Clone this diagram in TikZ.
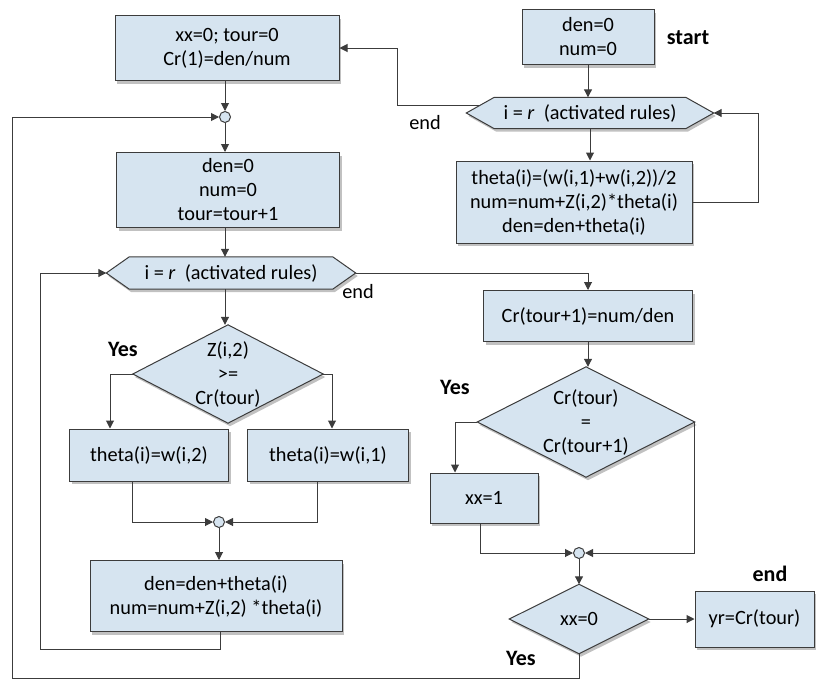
\documentclass[tikz,border=0pt]{standalone}
\usepackage{fontspec}
\setmainfont{Carlito}
\usetikzlibrary{arrows.meta,shadows,calc,backgrounds}
\definecolor{boxfill}{RGB}{214,228,240}
\definecolor{linec}{RGB}{60,60,60}
\newcommand{\fs}{\fontsize{20.3}{24}\selectfont}
\newcommand{\fb}{\fontsize{22}{26}\selectfont\bfseries}
\tikzset{
  shd/.style={drop shadow={shadow xshift=2pt,shadow yshift=-3pt,opacity=0.35,fill=black!70}},
  box/.style={draw=linec,line width=1pt,fill=boxfill,inner sep=0pt,align=center,font=\fs,shd},
  shp/.style={inner sep=0pt,align=center,font=\fs},
  shpdraw/.style={draw=linec,line width=1pt,fill=boxfill,shd},
  arr/.style={draw=linec,line width=1pt,-{Triangle[length=8pt,width=8pt]}},
  ln/.style={draw=linec,line width=1pt},
  junc/.style={circle,draw=linec,line width=1pt,fill=boxfill,minimum size=11pt,inner sep=0pt},
  lab/.style={font=\fs,inner sep=0pt},
  blab/.style={font=\fb,inner sep=0pt}
}
\begin{document}
\begin{tikzpicture}[x=1pt,y=-1pt]
\useasboundingbox (0,0) rectangle (816,680);
% boxes
\node[box,minimum width=224,minimum height=65] (A) at (227,48) {xx=0; tour=0\\Cr(1)=den/num};
\node[box,minimum width=132,minimum height=55] (S) at (588,37) {den=0\\num=0};
\node[box,minimum width=236,minimum height=82] (B) at (574,202) {theta(i)=(w(i,1)+w(i,2))/2\\num=num+Z(i,2)*theta(i)\\den=den+theta(i)};
\node[box,minimum width=223,minimum height=75] (C) at (228,190) {den=0\\num=0\\tour=tour+1};
\node[box,minimum width=159,minimum height=52] (D1) at (149,455) {theta(i)=w(i,2)};
\node[box,minimum width=161,minimum height=52] (D2) at (328,455) {theta(i)=w(i,1)};
\node[box,minimum width=252,minimum height=71] (E) at (216,596) {den=den+theta(i)\\num=num+Z(i,2) *theta(i)};
\node[box,minimum width=209,minimum height=51] (F) at (588,316) {Cr(tour+1)=num/den};
\node[box,minimum width=108,minimum height=50] (G) at (484,498) {xx=1};
\node[box,minimum width=119,minimum height=56] (H) at (754.5,619) {yr=Cr(tour)};
% hexagons and diamonds (text nodes)
\node[shp,minimum width=247,minimum height=31] (h1) at (590,113) {i = \textit{r}\ \ (activated rules)};
\node[shp,minimum width=249,minimum height=32] (h2) at (231,273) {i = \textit{r}\ \ (activated rules)};
\node[shp,minimum width=190,minimum height=98] (d1) at (228,374) {Z(i,2)\\>=\\Cr(tour)};
\node[shp,minimum width=217,minimum height=110] (d2) at (586,422) {Cr(tour)\\=\\Cr(tour+1)};
\node[shp,minimum width=139,minimum height=69] (d3) at (579,619) {xx=0};
\begin{scope}[on background layer]
  \path[shpdraw] (h1.west) -- ($(h1.north west)+(28,0)$) -- ($(h1.north east)+(-28,0)$) -- (h1.east) -- ($(h1.south east)+(-28,0)$) -- ($(h1.south west)+(28,0)$) -- cycle;
  \path[shpdraw] (h2.west) -- ($(h2.north west)+(23,0)$) -- ($(h2.north east)+(-23,0)$) -- (h2.east) -- ($(h2.south east)+(-23,0)$) -- ($(h2.south west)+(23,0)$) -- cycle;
  \path[shpdraw] (d1.north) -- (d1.east) -- (d1.south) -- (d1.west) -- cycle;
  \path[shpdraw] (d2.north) -- (d2.east) -- (d2.south) -- (d2.west) -- cycle;
  \path[shpdraw] (d3.north) -- (d3.east) -- (d3.south) -- (d3.west) -- cycle;
\end{scope}
% junctions
\node[junc] (j1) at (225,117) {};
\node[junc] (j3) at (219,522) {};
\node[junc] (j2) at (579,553) {};
% free coordinates
\coordinate (h1e) at ($(h1.west)+(14,-8)$);
\coordinate (lo) at (12,678);
\coordinate (li) at (40,649);
% connectors
\draw[arr] (S.south) -- (S.south |- h1.north);
\draw[arr] (h1.south) -- (h1.south |- B.north);
\draw[arr] (B.east) -- ++(66,0) |- (h1.east);
\draw[arr] (h1e) -- ++(-83,0) |- (A.east);
\draw[arr] (A.south -| j1) -- (j1.north);
\draw[arr] (d3.south) |- (lo) |- (j1.west);
\draw[arr] (j1.south) -- (j1.south |- C.north);
\draw[arr] (C.south -| j1) -- (j1 |- h2.north);
\draw[arr] (j1 |- h2.south) -- (j1 |- d1.north);
\draw[arr] (d1.west) -| ($(D1.north)+(-39,0)$);
\draw[arr] (d1.east) -| ($(D2.north)+(4,0)$);
\draw[arr] ($(D1.south)+(-17,0)$) |- (j3.west);
\draw[arr] ($(D2.south)+(-11,0)$) |- (j3.east);
\draw[arr] (j3.south) -- (j3.south |- E.north);
\draw[arr] ($(E.south)+(4,0)$) |- (li) |- (h2.west);
\draw[arr] (h2.east) -| (F.north);
\draw[arr] (F.south) -- (F.south |- d2.north);
\draw[arr] (d2.west) -| ($(G.north)+(-29,0)$);
\draw[arr] ($(G.south)+(-4,0)$) |- (j2.west);
\draw[arr] (d2.east) |- (j2.east);
\draw[arr] (j2.south) -- (d3.north);
\draw[arr] (d3.east) -- (H.west);
% labels
\node[blab] (lstart) at (688,38) {start};
\node[lab] (lend1) at (425,123) {end};
\node[lab] (lend2) at (358,292) {end};
\node[blab] (lend3) at (770,574) {end};
\node[blab] (lyes1) at (123,349) {Yes};
\node[blab] (lyes2) at (455,387) {Yes};
\node[blab] (lyes3) at (521,658) {Yes};
\end{tikzpicture}
\end{document}
